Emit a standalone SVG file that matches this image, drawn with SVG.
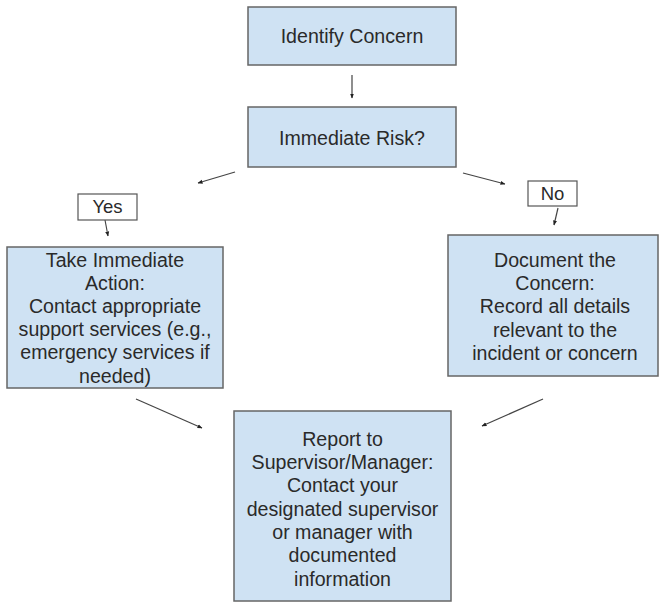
<svg xmlns="http://www.w3.org/2000/svg" width="660" height="604" viewBox="0 0 660 604">
<defs>
<style>
.box{fill:#cfe2f3;stroke:#666;stroke-width:1.5}
.lbl{fill:#fff;stroke:#555;stroke-width:1.2}
text{font-family:"Liberation Sans",Arial,sans-serif;font-size:19.6px;fill:#2a2a2a;text-anchor:middle}
.small{font-size:18.5px}
.c{stroke:#444;stroke-width:1.2;fill:none;marker-end:url(#ah)}
</style>
<marker id="ah" viewBox="0 0 10 10" refX="9" refY="5" markerWidth="5" markerHeight="5" orient="auto" markerUnits="userSpaceOnUse">
<path d="M0,1 L10,5 L0,9 Z" fill="#222"/>
</marker>
</defs>
<rect width="660" height="604" fill="#fff"/>
<g id="connectors">
<line class="c" x1="352" y1="75" x2="352" y2="98"/>
<line class="c" x1="235" y1="172" x2="198" y2="183"/>
<line class="c" x1="463" y1="173" x2="505" y2="184"/>
<line class="c" x1="105" y1="220" x2="108" y2="236"/>
<line class="c" x1="558" y1="208" x2="554" y2="225"/>
<line class="c" x1="136" y1="399" x2="202" y2="428"/>
<line class="c" x1="543" y1="399" x2="482" y2="426"/>
</g>
<g id="identify">
<rect class="box" x="248" y="7" width="208" height="58"/>
<text x="352" y="43">Identify Concern</text>
</g>
<g id="risk">
<rect class="box" x="248" y="107" width="208" height="60"/>
<text x="352" y="145">Immediate Risk?</text>
</g>
<g id="yes">
<rect class="lbl" x="78" y="194" width="59" height="26"/>
<text class="small" x="107.5" y="213">Yes</text>
</g>
<g id="no">
<rect class="lbl" x="528" y="181" width="49" height="25"/>
<text class="small" x="552.5" y="200">No</text>
</g>
<g id="action">
<rect class="box" x="7" y="247" width="216" height="141"/>
<text x="115" y="266.5">Take Immediate</text>
<text x="115" y="289.7">Action:</text>
<text x="115" y="312.9">Contact appropriate</text>
<text x="115" y="336.1">support services (e.g.,</text>
<text x="115" y="359.3">emergency services if</text>
<text x="115" y="382.5">needed)</text>
</g>
<g id="document">
<rect class="box" x="448" y="235" width="210" height="141"/>
<text x="555" y="266.7">Document the</text>
<text x="555" y="290">Concern:</text>
<text x="555" y="313.3">Record all details</text>
<text x="555" y="336.6">relevant to the</text>
<text x="555" y="359.9">incident or concern</text>
</g>
<g id="report">
<rect class="box" x="234" y="411" width="217" height="190"/>
<text x="342.5" y="445.7">Report to</text>
<text x="342.5" y="469">Supervisor/Manager:</text>
<text x="342.5" y="492.3">Contact your</text>
<text x="342.5" y="515.6">designated supervisor</text>
<text x="342.5" y="538.9">or manager with</text>
<text x="342.5" y="562.2">documented</text>
<text x="342.5" y="585.5">information</text>
</g>
</svg>
